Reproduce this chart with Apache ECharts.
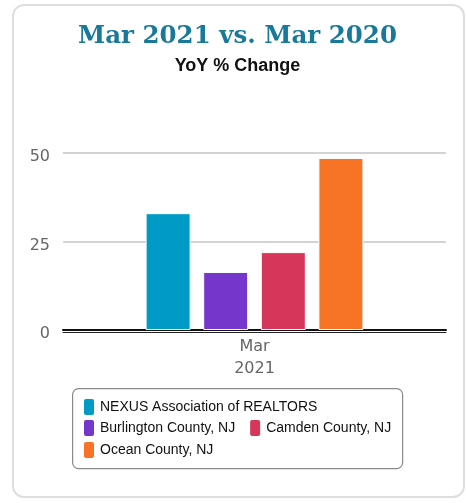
<!DOCTYPE html>
<html>
<head>
<meta charset="utf-8">
<script src="https://cdn.jsdelivr.net/npm/echarts@6/dist/echarts.min.js"></script>
<style>
  html, body { margin: 0; padding: 0; background: #fff; }
  #card { position: absolute; left: 12px; top: 4px; width: 449px; height: 490px;
          border: 2px solid #dedede; border-radius: 12px; box-sizing: content-box; }
  #main { position: absolute; left: 0; top: 0; width: 466px; height: 503px; }
</style>
</head>
<body>
<div id="card"></div>
<div id="main"></div>
<script>
const categories = ['Mar\n2021'];
const seriesNames = ['NEXUS Association of REALTORS', 'Burlington County, NJ', 'Camden County, NJ', 'Ocean County, NJ'];
const seriesColors = ['#009ac7', '#7436cb', '#d63659', '#f77325'];
const nexusValues = [33.0];
const burlingtonValues = [16.4];
const camdenValues = [22.0];
const oceanValues = [48.6];
const yTicks = [0, 25, 50];
const titleText = 'Mar 2021 vs. Mar 2020';
const subtitleText = 'YoY % Change';

const valuesList = [nexusValues, burlingtonValues, camdenValues, oceanValues];

const chart = echarts.init(document.getElementById('main'), null, { renderer: 'canvas' });

const legendText = { fontFamily: 'Liberation Sans', fontSize: 14, color: '#111' };
const legendCommon = {
  orient: 'horizontal', left: 82, itemWidth: 12, itemHeight: 18, itemGap: 13,
  icon: 'roundRect', textStyle: legendText, selectedMode: false, padding: 0
};

chart.setOption({
  backgroundColor: 'transparent',
  animation: false,
  legend: [
    Object.assign({}, legendCommon, { top: 397, data: [seriesNames[0]] }),
    Object.assign({}, legendCommon, { top: 418, data: [seriesNames[1], seriesNames[2]] }),
    Object.assign({}, legendCommon, { top: 440, data: [seriesNames[3]] })
  ],
  graphic: [
    { type: 'text', x: 237.5, y: 37,
      style: { text: titleText, align: 'center', verticalAlign: 'middle',
               textAlign: 'center', textVerticalAlign: 'middle',
               font: 'bold 24.5px "DejaVu Serif"', fill: '#19799a' } },
    { type: 'text', x: 237.5, y: 66,
      style: { text: subtitleText, align: 'center', verticalAlign: 'middle',
               textAlign: 'center', textVerticalAlign: 'middle',
               font: 'bold 18px "Liberation Sans"', fill: '#111' } },
    { type: 'rect', left: 72, top: 388, z: -1,
      shape: { width: 330, height: 80, r: 6 },
      style: { fill: '#fff', stroke: '#8a8a8a', lineWidth: 1.2 } }
  ],
  grid: { left: 63, right: 20, top: 153, bottom: 173 },
  xAxis: [
    { type: 'category', data: categories,
      axisLine: { show: true, lineStyle: { color: '#111', width: 2 } },
      axisTick: { show: false },
      axisLabel: { color: '#666', fontFamily: 'DejaVu Sans', fontSize: 16, lineHeight: 22, margin: 6 } },
    { type: 'category', data: categories, position: 'bottom', offset: 2.5,
      axisLine: { show: true, lineStyle: { color: '#222', width: 1 } },
      axisTick: { show: false }, axisLabel: { show: false } }
  ],
  yAxis: {
    type: 'value', min: yTicks[0], max: yTicks[yTicks.length - 1], interval: yTicks[1] - yTicks[0],
    axisLine: { show: false }, axisTick: { show: false },
    axisLabel: { color: '#666', fontFamily: 'DejaVu Sans', fontSize: 16, margin: 13,
                 verticalAlign: 'top', lineHeight: 8 },
    splitLine: { lineStyle: { color: '#c4c4c4', width: 1.5 } }
  },
  series: seriesNames.map((name, i) => ({
    name: name, type: 'bar', data: valuesList[i], xAxisIndex: 0,
    barWidth: 45, barGap: '28%',
    itemStyle: { color: seriesColors[i], borderColor: '#fff', borderWidth: 1 }
  }))
});
</script>
</body>
</html>
